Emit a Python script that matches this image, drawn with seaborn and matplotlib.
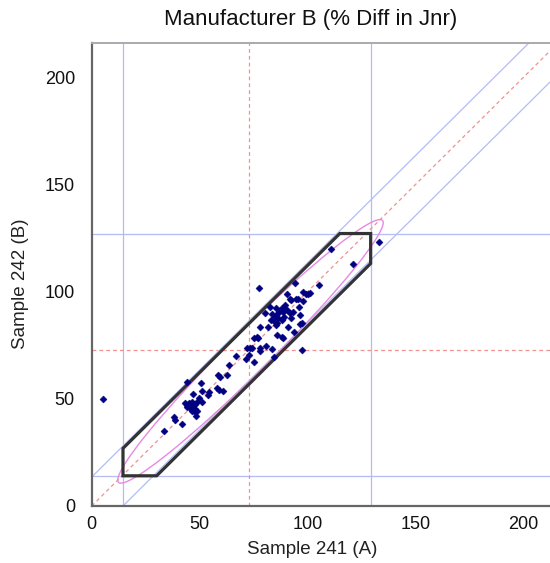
import matplotlib
matplotlib.use("Agg")
import matplotlib.pyplot as plt
from matplotlib.patches import Ellipse, Polygon
import seaborn as sns
import pandas as pd
import numpy as np

# ---- data ----
x_vals = [5.1, 111.1, 133.2, 121.1, 77.6, 94.4, 105.2, 98.0, 99.2, 100.3, 101.0,
          90.6, 92.3, 95.7, 98.1, 82.5, 85.6, 88.0, 90.3, 80.5, 83.8, 84.9, 85.6,
          88.7, 91.8, 93.3, 96.1, 96.4, 83.3, 84.9, 86.4, 88.0, 89.2, 85.2, 86.0,
          92.6, 96.7, 97.5, 91.0, 77.9, 81.8, 93.7, 75.3, 76.4, 77.1, 86.1, 88.0,
          88.7, 72.2, 73.3, 74.4, 77.9, 78.2, 81.0, 83.8, 97.7, 73.0, 71.7, 75.3,
          84.6, 66.7, 63.7, 58.6, 59.7, 62.5, 44.4, 50.6, 50.9, 54.4, 54.0, 57.9,
          58.9, 60.9, 46.8, 49.8, 48.6, 50.9, 43.2, 44.0, 45.2, 46.3, 44.0, 45.5,
          46.3, 47.2, 48.0, 46.5, 47.3, 48.0, 49.0, 48.3, 38.1, 38.6, 41.9, 33.6,
          92.1, 94.9, 89.5, 87.0]
y_vals = [49.8, 120.2, 123.3, 112.9, 101.6, 103.9, 103.0, 100.0, 99.2, 98.9, 99.5,
          98.9, 96.1, 96.6, 95.6, 92.7, 92.2, 92.2, 91.4, 89.9, 89.6, 88.3, 89.1,
          90.7, 89.9, 90.7, 92.7, 89.1, 86.8, 86.0, 87.6, 86.8, 88.3, 84.5, 85.2,
          87.6, 84.9, 85.2, 83.4, 83.4, 83.4, 81.3, 78.5, 78.7, 78.2, 79.8, 79.0,
          78.2, 73.9, 73.6, 73.6, 73.9, 72.3, 74.6, 73.2, 72.8, 70.4, 68.4, 67.3,
          69.7, 70.0, 65.8, 61.1, 60.3, 61.1, 58.0, 57.5, 53.8, 53.3, 51.8, 54.9,
          54.1, 53.8, 52.1, 50.2, 48.7, 48.7, 47.9, 47.1, 47.9, 48.7, 46.2, 45.6,
          46.3, 47.1, 47.8, 44.5, 44.2, 45.2, 44.5, 42.0, 41.7, 40.1, 38.3, 35.0,
          96.4, 96.4, 94.0, 90.5]

range_x = [14.5, 129.3]      # blue vertical reference lines
range_y = [14.1, 127.2]      # blue horizontal reference lines
mean_x = 72.8                # red dashed vertical
mean_y = 72.8                # red dashed horizontal
band_offsets = [13.5, -14.5] # blue diagonal lines y = x + offset

hex_x = [14.5, 30.1, 129.3, 129.3, 115.0, 14.5]
hex_y = [14.1, 14.1, 113.2, 127.2, 127.2, 26.9]

ell_center = (73.6, 72.2)
ell_width = 173.0
ell_height = 19.0
ell_angle = 45.0

ticks = [0, 50, 100, 150, 200]
title = "Manufacturer B (% Diff in Jnr)"
xlabel = "Sample 241 (A)"
ylabel = "Sample 242 (B)"

# ---- plot ----
sns.set_style("white")
plt.rcParams['font.family'] = ['Liberation Sans', 'DejaVu Sans']

fig = plt.figure(figsize=(5.5, 5.63), dpi=100)
ax = fig.add_axes([91.7 / 550, 57 / 563, 466 / 550, 462.7 / 563])
ax.set_xlim(0, 216)
ax.set_ylim(0, 216)

blue = "#b4bcf4"
red = "#f29090"
for v in range_x:
    ax.axvline(v, color=blue, lw=0.9, zorder=1)
for h in range_y:
    ax.axhline(h, color=blue, lw=0.9, zorder=1)
ax.axvline(mean_x, color=red, lw=0.9, ls=(0, (3, 2.5)), zorder=1)
ax.axhline(mean_y, color=red, lw=0.9, ls=(0, (3, 2.5)), zorder=1)

line_x = np.array([0, 230])
for off in band_offsets:
    ax.plot(line_x, line_x + off, color=blue, lw=0.9, zorder=1)
ax.plot(line_x, line_x, color=red, lw=0.9, ls=(0, (3, 2.5)), zorder=1)

ax.add_patch(Ellipse(ell_center, ell_width, ell_height, angle=ell_angle,
                     fill=False, edgecolor="#e58ae5", lw=1.0, zorder=2))
ax.add_patch(Polygon(np.column_stack([hex_x, hex_y]), closed=True, fill=False,
                     edgecolor="#333333", lw=2.3, zorder=3))

df = pd.DataFrame({"x": x_vals, "y": y_vals})
sns.scatterplot(data=df, x="x", y="y", ax=ax, marker="D", s=13,
                color="#000080", edgecolor="#000080", linewidth=0.3, zorder=4)

ax.set_xticks(ticks)
ax.set_yticks(ticks)
ax.tick_params(axis='both', direction='out', length=3.6, width=1.2,
               color="#666666", labelsize=13, labelcolor="#111111")
ax.tick_params(axis='x', pad=3.7)
ax.tick_params(axis='y', pad=8.5)
ax.set_xlabel(xlabel, fontsize=13.5, color="#222222")
ax.set_ylabel(ylabel, fontsize=13.5, color="#222222")
ax.xaxis.label.set_verticalalignment('center')
ax.yaxis.label.set_verticalalignment('center')
ax.xaxis.set_label_coords((312 - 91.7) / 466, (506 - 549) / 462.7)
ax.yaxis.set_label_coords((21 - 91.7) / 466, (506 - 283.5) / 462.7)

for side in ["left", "bottom"]:
    ax.spines[side].set_color("#666666")
    ax.spines[side].set_linewidth(1.6)
ax.spines["top"].set_color("#aaaaaa")
ax.spines["top"].set_linewidth(1.4)
ax.spines["right"].set_visible(False)

fig.text(311 / 550, 1 - 19 / 563, title, ha="center", va="center",
         fontsize=16, color="#111111")

fig.savefig("out.png", dpi=100)
